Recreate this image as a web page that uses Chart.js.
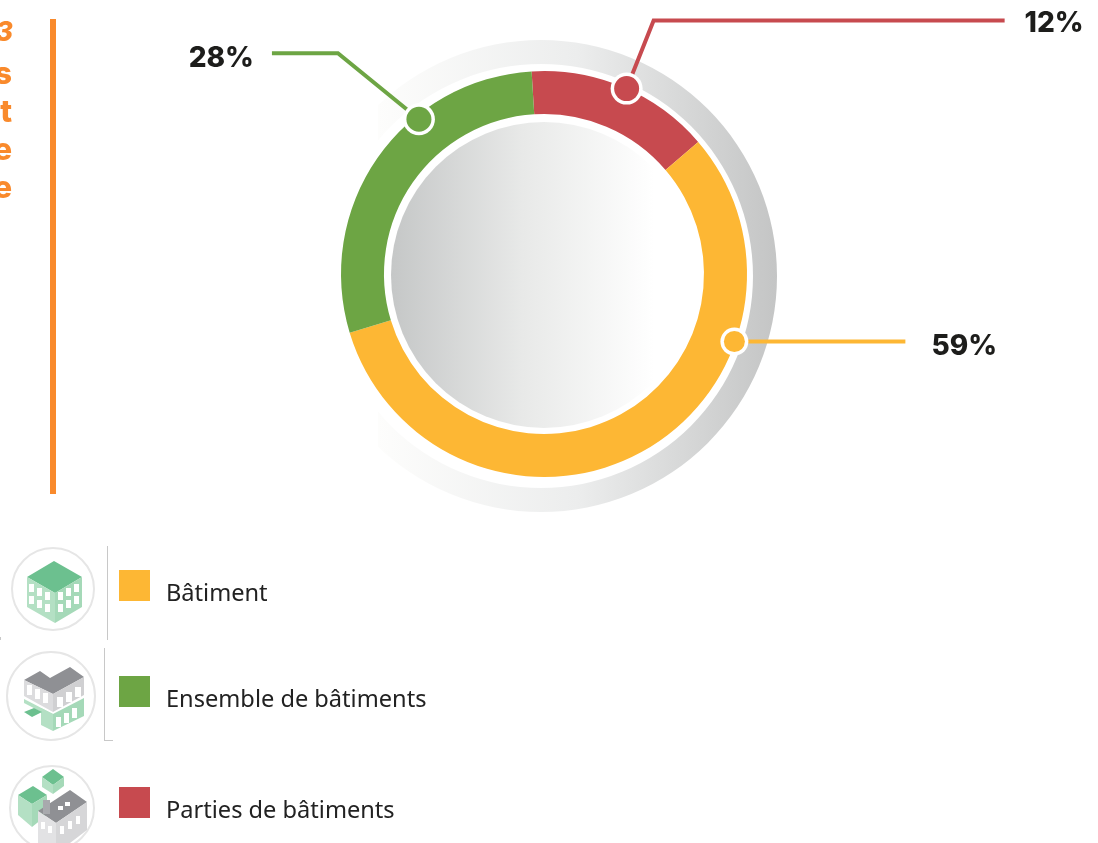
<!DOCTYPE html>
<html lang="fr">
<head>
<meta charset="utf-8">
<title>Répartition</title>
<script src="https://cdn.jsdelivr.net/npm/chart.js@4"></script>
<style>
  html, body { margin: 0; padding: 0; background: #fff; overflow: hidden; }
  #stage { position: relative; width: 1098px; height: 843px; overflow: hidden; }
  #chart { position: absolute; left: 0; top: 0; }
  .cut { position: absolute; right: 1086px; font: 800 31px Inter, sans-serif; color: #f98a2c; line-height: 30px; }
  .cut.num { font: italic 800 27px Inter, sans-serif; right: 1085px; }
  #bar { position: absolute; left: 50px; top: 19px; width: 6px; height: 475px; background: #f98a2c; }
  .swatch { position: absolute; left: 119px; width: 31px; height: 31px; }
  .name { position: absolute; left: 166px; font: 23.6px "Noto Sans", sans-serif; color: #222; line-height: 30px; white-space: nowrap; }
  .rule { position: absolute; background: #c8c8c8; }
  svg { position: absolute; left: 0; top: 0; }
</style>
</head>
<body>
<div id="stage">
  <canvas id="chart" width="1098" height="843"></canvas>
  <div id="bar"></div>
  <div class="rule" style="left:107px;top:546px;width:1px;height:94px"></div>
  <div class="rule" style="left:104px;top:648px;width:1px;height:93px"></div>
  <div class="rule" style="left:104px;top:740px;width:9px;height:1px"></div>
  <div class="rule" style="left:0;top:637px;width:1px;height:3px"></div>
  <svg width="110" height="843">
    <g fill="none" stroke="#e6e6e6" stroke-width="2">
      <circle cx="53" cy="589" r="41"/><circle cx="51" cy="696" r="44"/><circle cx="52" cy="808" r="42"/>
    </g>
    <!-- batiment -->
    <polygon points="27,577 54,561 82,577 55,593" fill="#6cc08f"/>
    <polygon points="27,577 55,593 55,623 27,607" fill="#b4e0c4"/>
    <polygon points="55,593 82,577 82,607 55,623" fill="#a5d9b8"/>
    <g fill="#fff">
      <rect x="29" y="584" width="5" height="8"/><rect x="37" y="588" width="5" height="8"/><rect x="45" y="592" width="5" height="8"/>
      <rect x="29" y="596" width="5" height="8"/><rect x="37" y="600" width="5" height="8"/><rect x="45" y="604" width="5" height="8"/>
      <rect x="58" y="592" width="5" height="8"/><rect x="66" y="588" width="5" height="8"/><rect x="74" y="584" width="5" height="8"/>
      <rect x="58" y="604" width="5" height="8"/><rect x="66" y="600" width="5" height="8"/><rect x="74" y="596" width="5" height="8"/>
    </g>
    <!-- ensemble -->
    <polygon points="24,680 40,671 50,678 70,667 84,677 53,694" fill="#8f9094"/>
    <polygon points="24,680 53,694 53,712 24,696" fill="#dcdcde"/>
    <polygon points="53,694 84,677 84,695 53,712" fill="#d0d0d2"/>
    <polygon points="24,699 53,714 53,718 24,703" fill="#b4e0c4"/>
    <polygon points="41,708 53,714 53,731 41,725" fill="#b4e0c4"/>
    <polygon points="53,714 84,698 84,716 53,731" fill="#a5d9b8"/>
    <polygon points="24,712 34,708 42,712 32,717" fill="#6cc08f"/>
    <g fill="#fff">
      <rect x="27" y="685" width="5" height="10"/><rect x="35" y="689" width="5" height="10"/><rect x="43" y="693" width="5" height="10"/>
      <rect x="57" y="697" width="6" height="10"/><rect x="66" y="692" width="6" height="10"/><rect x="75" y="687" width="6" height="10"/>
      <rect x="56" y="717" width="5" height="10"/><rect x="64" y="713" width="5" height="10"/><rect x="72" y="708" width="5" height="10"/>
    </g>
    <!-- parties -->
    <polygon points="42,777 53,769 64,777 53,785" fill="#6cc08f"/>
    <polygon points="42,777 53,785 53,794 42,787" fill="#b4e0c4"/>
    <polygon points="53,785 64,777 64,786 53,794" fill="#a5d9b8"/>
    <polygon points="18,795 33,786 47,795 32,804" fill="#6cc08f"/>
    <polygon points="18,795 32,804 32,827 18,815" fill="#b4e0c4"/>
    <polygon points="32,804 47,795 47,815 32,827" fill="#a5d9b8"/>
    <polygon points="38,811 70,790 87,802 56,823" fill="#8f9094"/>
    <polygon points="38,811 56,823 56,843 38,843" fill="#e2e2e4"/>
    <polygon points="56,823 87,802 87,830 70,843 56,843" fill="#d6d6d8"/>
    <rect x="43" y="800" width="7" height="14" fill="#a8a9ad"/>
    <g fill="#fff">
      <rect x="58" y="806" width="5" height="4"/><rect x="65" y="802" width="5" height="4"/>
      <rect x="41" y="822" width="4" height="7"/><rect x="48" y="826" width="4" height="7"/>
      <rect x="60" y="826" width="4" height="8"/><rect x="68" y="821" width="4" height="8"/><rect x="76" y="816" width="4" height="8"/>
    </g>
  </svg>
</div>
<script>
// what the labels say
var categories = ['Parties de bâtiments', 'Bâtiment', 'Ensemble de bâtiments'];
var printedValues = [12, 59, 28];
// arc sizes as drawn in the picture, they do not quite follow the printed percentages
var drawnShares = [14.7, 56.6, 28.7];
var colors = ['#c74a4f', '#fdb734', '#6da544'];
var legendOrder = [1, 2, 0];
var legendTops = [570, 676, 787];
var cutLetters = ['3', 's', 't', 'e', 'e'];
var cutTops = [15, 58, 96, 134, 172];

// where the dot sits along its slice, and the leader going out of it
var dotAlong = [0.52, 0.295, 0.657];
var dotInset = [0, 1, 4];
var leaders = [
  { elbow: [27, -68], end: [378, -68], text: [457, -65], align: 'right' },
  { elbow: null, end: [171, 0], text: [197, 5], align: 'left' },
  { elbow: [-81, -66], end: [-147, -66], text: [-165, -61], align: 'right' }
];

var stage = document.getElementById('stage');
cutLetters.forEach(function(letter, i) {
  var el = document.createElement('div');
  el.className = i === 0 ? 'cut num' : 'cut';
  el.style.top = cutTops[i] + 'px';
  el.textContent = letter;
  stage.appendChild(el);
});
legendOrder.forEach(function(idx, i) {
  var box = document.createElement('div');
  box.className = 'swatch';
  box.style.top = legendTops[i] + 'px';
  box.style.background = colors[idx];
  stage.appendChild(box);
  var name = document.createElement('div');
  name.className = 'name';
  name.style.top = (legendTops[i] + 7) + 'px';
  name.textContent = categories[idx];
  stage.appendChild(name);
});

// grey ring and disc behind the doughnut
var backdrop = {
  id: 'backdrop',
  beforeDatasetsDraw: function(chart) {
    var ctx = chart.ctx;
    var arc = chart.getDatasetMeta(0).data[0];
    var cx = arc.x, cy = arc.y;

    var ring = ctx.createLinearGradient(cx - 166, 0, cx + 233, 0);
    ring.addColorStop(0, '#fdfdfc');
    ring.addColorStop(0.5, '#eceded');
    ring.addColorStop(1, '#c4c5c5');
    ctx.save();
    ctx.beginPath();
    ctx.rect(cx - 166, 0, 500, 600);
    ctx.clip();
    ctx.beginPath();
    ctx.arc(cx - 3, cy + 2, 236, 0, Math.PI * 2);
    ctx.arc(cx - 3, cy + 2, 212, 0, Math.PI * 2, true);
    ctx.fillStyle = ring;
    ctx.fill();
    ctx.restore();

    var disc = ctx.createLinearGradient(cx - 153, 0, cx + 110, 0);
    disc.addColorStop(0, '#c5c7c7');
    disc.addColorStop(0.5, '#e8e9e8');
    disc.addColorStop(1, '#ffffff');
    ctx.beginPath();
    ctx.arc(cx, cy + 1, 153, 0, Math.PI * 2);
    ctx.fillStyle = disc;
    ctx.fill();
  }
};

// dots, leaders and percentages placed from the arc elements
var callouts = {
  id: 'callouts',
  afterDatasetsDraw: function(chart) {
    var ctx = chart.ctx;
    chart.getDatasetMeta(0).data.forEach(function(arc, i) {
      var a = arc.startAngle + (arc.endAngle - arc.startAngle) * dotAlong[i];
      var r = arc.outerRadius - dotInset[i];
      var x = arc.x + Math.cos(a) * r;
      var y = arc.y + Math.sin(a) * r;
      var l = leaders[i];

      ctx.strokeStyle = colors[i];
      ctx.lineWidth = 4;
      ctx.beginPath();
      ctx.moveTo(x, y);
      if (l.elbow) ctx.lineTo(x + l.elbow[0], y + l.elbow[1]);
      ctx.lineTo(x + l.end[0], y + (l.elbow ? l.end[1] : 0));
      ctx.stroke();

      ctx.beginPath();
      ctx.arc(x, y, i === 1 ? 14 : 16, 0, Math.PI * 2);
      ctx.fillStyle = '#fff';
      ctx.fill();
      ctx.beginPath();
      ctx.arc(x, y, i === 1 ? 10.5 : 12.5, 0, Math.PI * 2);
      ctx.fillStyle = colors[i];
      ctx.fill();

      ctx.fillStyle = '#1d1d1b';
      ctx.font = '800 28px Inter, sans-serif';
      ctx.textAlign = l.align;
      ctx.textBaseline = 'middle';
      ctx.fillText(printedValues[i] + '%', x + l.text[0], y + l.text[1]);
    });
  }
};

new Chart(document.getElementById('chart'), {
  type: 'doughnut',
  data: {
    labels: categories,
    datasets: [{
      data: drawnShares,
      backgroundColor: colors,
      borderWidth: 0
    }]
  },
  options: {
    responsive: false,
    animation: false,
    cutout: 160,
    rotation: -3.5,
    layout: { padding: { left: 341, right: 351, top: 71, bottom: 366 } },
    plugins: { legend: { display: false }, tooltip: { enabled: false } }
  },
  plugins: [backdrop, callouts]
});
</script>
</body>
</html>
